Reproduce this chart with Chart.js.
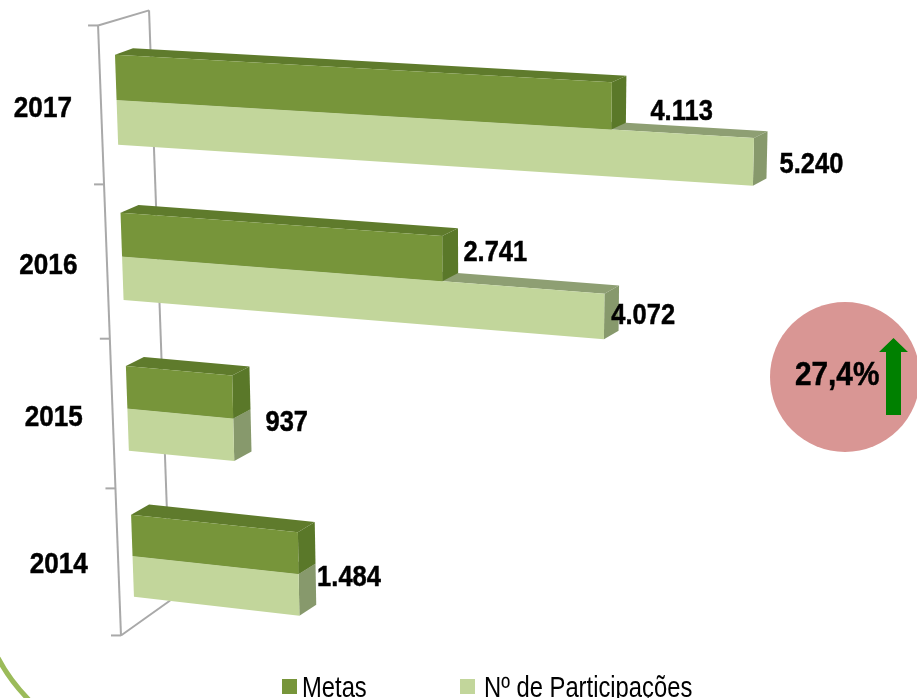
<!DOCTYPE html>
<html><head><meta charset="utf-8">
<script src="https://cdn.jsdelivr.net/npm/chart.js@4"></script>
<style>html,body{margin:0;padding:0;background:#fff;overflow:hidden}canvas{display:block}</style>
</head><body><div style="width:917px;height:698px"><canvas id="c"></canvas></div>
<script>
const categories = ['2017','2016','2015','2014'];
const metas = [4113,2741,937,1484];
const participacoes = [5240,4072,937,1484];
const seriesNames = ['Metas','Nº de Participações'];
const badgeText = '27,4%';

const FONT = '"Liberation Sans",Arial,sans-serif';
const fmt = v => String(v).replace(/\B(?=(\d{3})+$)/g,'.');
const colors = {
  metas:{front:'#77953A',top:'#5F7B2C',side:'#5A7829'},
  part:{front:'#C2D69B',top:'#8E9F73',side:'#87996C'}
};
function text(ctx, t, x, y, sx, font, align, base){
  ctx.save();
  ctx.font = font; ctx.textAlign = align; ctx.textBaseline = base; ctx.fillStyle = '#000';
  ctx.translate(x,y); ctx.scale(sx,1);
  ctx.fillText(t,0,0);
  if(font.startsWith('bold')){ ctx.strokeStyle='#000'; ctx.lineWidth=0.5; ctx.strokeText(t,0,0); }
  ctx.restore();
}

// oblique-perspective projection of chart pixels (reference has a 3-D rotated plot)
const g = py => py + 1e-4*(py-100)*(556-py);
const xl = Y => 115 + 0.035*(Y-55);
const kk = Y => 0.049 + 0.000108*Y;
function project(u, py){
  const Y0 = g(py), X0 = xl(Y0);
  const v = u/0.12;
  const w = v*(0.1165 - 1.14e-5*Y0 + 1.2e-6*v);
  return {x:X0+w, y:Y0+w*kk(Y0), w, Y0};
}
const depth = p => ({dx:18-0.007*p.w, dy:-6.5-(p.Y0-55)*0.008});
function poly(ctx, pts, fill){
  ctx.beginPath();
  pts.forEach((p,i)=> i?ctx.lineTo(p.x,p.y):ctx.moveTo(p.x,p.y));
  ctx.closePath(); ctx.fillStyle=fill; ctx.fill();
}
function drawBox(ctx, el, xs, c){
  const u = el.x - xs.left;
  const top = el.y - el.height/2, bot = el.y + el.height/2;
  const a = project(0,top), b = project(u,top), d = project(u,bot), e = project(0,bot);
  const back = p => { const o = depth(p); return {x:p.x+o.dx,y:p.y+o.dy}; };
  poly(ctx,[a,b,back(b),back(a)],c.top);
  poly(ctx,[b,d,back(d),back(b)],c.side);
  poly(ctx,[a,b,d,e],c.front);
}
const scene = {
  id:'scene',
  beforeDatasetsDraw(chart){
    const {ctx, scales:{x:xs,y:ys}} = chart;
    ctx.save();
    // axis frame
    ctx.strokeStyle='#A9A9A9'; ctx.lineWidth=2;
    const n = categories.length, pts=[];
    for(let i=0;i<=n;i++){
      const py = ys.top + i*(ys.bottom-ys.top)/n;
      const Y = g(py)+5.5+(i===n?2:0);
      pts.push({x:98+(Y-24)*0.0376, y:Y});
    }
    const wall = p => ({x:p.x+51-(p.y-24)*0.003, y:p.y-15-(p.y-24)*0.0327});
    const line=(A,B)=>{ctx.beginPath();ctx.moveTo(A.x,A.y);ctx.lineTo(B.x,B.y);ctx.stroke();};
    line(pts[0],pts[n]);
    line(wall(pts[0]),wall(pts[n]));
    line(pts[0],wall(pts[0]));
    line(pts[n],wall(pts[n]));
    pts.forEach(p=>line({x:p.x-10,y:p.y},p));
    // bars
    const m0 = chart.getDatasetMeta(0), m1 = chart.getDatasetMeta(1);
    categories.forEach((_,i)=>{
      drawBox(ctx,m1.data[i],xs,colors.part);
      drawBox(ctx,m0.data[i],xs,colors.metas);
    });
    // category labels
    categories.forEach((t,i)=>{
      const Y = g(ys.getPixelForValue(i))+9;
      text(ctx,t,xl(Y)-74,Y,0.87,'bold 30px '+FONT,'center','middle');
    });
    // value labels (2015 and 2014 carry one shared label)
    const offs0=[[70,6],[53,-6]], offs1=[[58,3],[39,-1],[53,-17],[50,-17]];
    [[m0,metas,offs0],[m1,participacoes,offs1]].forEach(([m,vals,offs])=>{
      vals.forEach((v,i)=>{
        if(!offs[i]) return;
        const el=m.data[i];
        const p=project(el.x-xs.left, el.y);
        text(ctx,fmt(v),p.x+offs[i][0],p.y+offs[i][1],0.85,'bold 30px '+FONT,'center','middle');
      });
    });
    // legend
    const lx=[[282,302],[460,484]];
    chart.data.datasets.forEach((ds,i)=>{
      ctx.fillStyle=ds.backgroundColor; ctx.fillRect(lx[i][0],679,15,15);
      text(ctx,ds.label,lx[i][1],697,0.82,'29px '+FONT,'left','alphabetic');
    });
    // badge
    ctx.fillStyle='#D99694'; ctx.beginPath(); ctx.arc(845,377,75,0,Math.PI*2); ctx.fill();
    text(ctx,badgeText,795,376,0.875,'bold 34px '+FONT,'left','middle');
    ctx.fillStyle='#008000'; ctx.beginPath();
    [[886,415],[886,352],[879,352],[893.5,338],[908,352],[901,352],[901,415]].forEach((p,i)=> i?ctx.lineTo(p[0],p[1]):ctx.moveTo(p[0],p[1]));
    ctx.closePath(); ctx.fill();
    // decorative arc
    ctx.strokeStyle='#9BBB59'; ctx.lineWidth=5; ctx.beginPath();
    ctx.moveTo(-2,658); ctx.quadraticCurveTo(10,681,30,701); ctx.stroke();
    ctx.restore();
    return false;
  }
};
new Chart(document.getElementById('c'),{
  type:'bar',
  data:{labels:categories,datasets:[
    {label:seriesNames[0],data:metas,backgroundColor:colors.metas.front,barPercentage:1,categoryPercentage:0.566},
    {label:seriesNames[1],data:participacoes,backgroundColor:colors.part.front,barPercentage:1,categoryPercentage:0.566}
  ]},
  options:{
    indexAxis:'y',responsive:true,maintainAspectRatio:false,animation:false,
    layout:{padding:{left:115,right:82,top:24,bottom:66}},
    plugins:{legend:{display:false},tooltip:{enabled:false}},
    scales:{
      x:{display:false,min:0,max:6000},
      y:{display:false}
    }
  },
  plugins:[scene]
});
</script></body></html>
